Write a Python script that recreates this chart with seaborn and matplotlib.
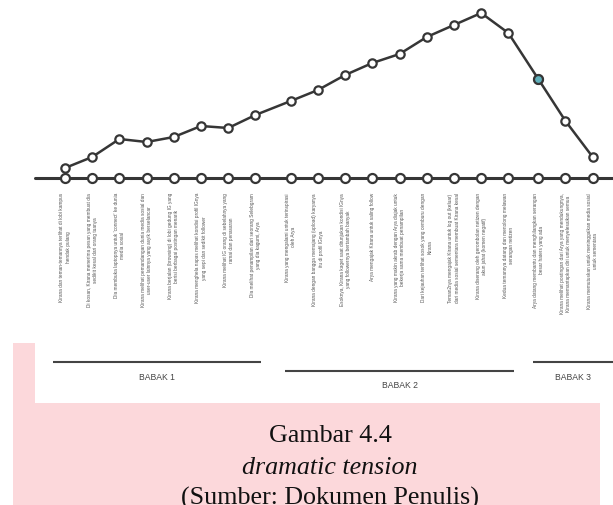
"""
Dramatic tension chart (Gambar 4.4) drawn with seaborn + matplotlib.
"""
import numpy as np
import matplotlib
matplotlib.use('Agg')
import matplotlib.pyplot as plt
import seaborn as sns
from matplotlib import font_manager
from matplotlib.patches import Rectangle

# story events, left to right
events = [
    "Kirana dan teman-temannya terlihat di lobi kampus\nhendak pulang",
    "Di kosan, Kirana menerima pesan yang membuat dia\nsedikit kesal dari orang tuanya",
    "Dia membuka laptopnya untuk 'connect' ke dunia\nmedia sosial",
    "Kirana melihat pemandangan dunia media sosial dan\nuser-user lainnya yang asyik berselancar",
    "Kirana berjalan (browsing) di lobi gedung IG yang\nberisi berbagai postingan menarik",
    "Kirana menghela napas melihat kondisi profil IGnya\nyang sepi dan sedikit follower",
    "Kirana melihat IG orang di sebelahnya yang\nramai dan penasaran",
    "Dia melihat penampilan dari seorang Selebgram\nyang dia kagumi, Arya",
    "Kirana yang mengalami untuk terinspirasi\noleh Arya",
    "Kirana dengan bangga memajang (upload) karyanya\nitu di profil IGnya",
    "Esoknya, Kirana kaget saat ditunjukan kondisi IGnya\nyang followernya bertambah banyak",
    "Arya mengajak Kirana untuk saling follow",
    "Kirana yang makin akrab dengan Arya diajak untuk\nbekerja sama membuat penampilan",
    "Dari kejauhan terlihat sosok yang cemburu dengan\nKirana",
    "Teman2nya mengajak Kirana untuk log out (keluar)\ndari media sosial sementara membuat Kirana kesal",
    "Kirana diserang oleh gerombolan netizen dengan\nakun jahat (komen negatif)",
    "Kedua temannya datang dan menolong melawan\nserangan netizen",
    "Arya datang membantu dan menghilangkan serangan\nbesar haters yang ada",
    "Kirana melihat postingan dari Arya yang mendukungnya,\nKirana memantapkan diri untuk menyelesaikan semua",
    "Kirana memutuskan untuk meninggalkan media sosial\nuntuk sementara",
]
tension = [10, 21, 39, 36, 41, 52, 50, 63, 77, 88,
           103, 115, 124, 141, 153, 165, 145, 99, 57, 21]
acts = ['BABAK 1', 'BABAK 2', 'BABAK 3']
act_sizes = [8, 9, 3]
highlight = 17
caption = ['Gambar 4.4', 'dramatic tension', '(Sumber: Dokumen Penulis)']

# layout (pixels of a 613x505 canvas)
W, H = 613, 505
X0, STEP, BASE_Y = 65, 27.2, 178
act_gap = [0.0, 0.3, 0.4]
act_drop = [0, 9, 0]
DARK = '#363636'
PINK = '#fcd8db'
TEAL = '#5fb0bb'

names = {f.name for f in font_manager.fontManager.ttflist}
if 'Liberation Sans Narrow' in names:
    label_font, label_size = 'Liberation Sans Narrow', 4.1
else:
    label_font, label_size = 'Liberation Sans', 3.4

sns.set_style('white')
plt.rcParams['font.family'] = ['Liberation Sans', 'DejaVu Sans']

act_of = np.repeat(np.arange(len(acts)), act_sizes)
pos = np.arange(len(events)) + np.array(act_gap)[act_of]

fig = plt.figure(figsize=(W / 100, H / 100), dpi=100)

# page background: pink caption box and white chart card
bg = fig.add_axes([0, 0, 1, 1])
bg.set_xlim(0, W)
bg.set_ylim(H, 0)
bg.axis('off')
bg.add_patch(Rectangle((13, 343), 587, H - 343, color=PINK, lw=0))
bg.add_patch(Rectangle((35, 0), W - 35, 403, color='white', lw=0))
for k, (txt, yy) in enumerate(zip(caption, [436, 468, 498])):
    bg.text(330, yy, txt, ha='center', va='center', fontsize=18.7,
            family='Liberation Serif', style='italic' if k == 1 else 'normal',
            color='#111111')

# chart axes, tension units = pixels above the baseline
ax = fig.add_axes([0, 0, 1, 1])
ax.patch.set_alpha(0)
ax.set_xlim(-X0 / STEP, (W - X0) / STEP)
ax.set_ylim(BASE_Y - H, BASE_Y)
ax.axis('off')

ax.axhline(0, xmin=35 / W, xmax=1, color=DARK, lw=2.2, zorder=2)
sns.scatterplot(x=pos, y=np.zeros(len(pos)), ax=ax, s=42, color='white',
                edgecolor=DARK, linewidth=1.6, zorder=3)
sns.lineplot(x=pos, y=tension, ax=ax, color=DARK, lw=1.8, marker='o',
             markersize=6, markerfacecolor='white', markeredgecolor=DARK,
             markeredgewidth=1.6, zorder=4)
sns.scatterplot(x=[pos[highlight]], y=[tension[highlight]], ax=ax, s=42,
                color=TEAL, edgecolor=DARK, linewidth=1.6, zorder=5)

for p, txt in zip(pos, events):
    ax.text(p, -15, txt, rotation=90, ha='center', va='top',
            multialignment='center', linespacing=1.3, fontsize=label_size,
            family=label_font, color='#555555')

# act brackets
start = 0
for k, (name, n) in enumerate(zip(acts, act_sizes)):
    x1 = pos[start] - 0.2 if k else pos[start] - 0.44
    x2 = pos[start + n - 1] + 0.22 if k < len(acts) - 1 else ax.get_xlim()[1]
    y = -(362 - BASE_Y) - act_drop[k]
    ax.plot([x1, x2], [y, y], color='#444444', lw=1.5, solid_capstyle='butt')
    ax.text((x1 + x2) / 2, y - 15, name, ha='center', va='center',
            fontsize=6.2, family=label_font, color='#444444')
    start += n

fig.savefig('out.png', dpi=100)
